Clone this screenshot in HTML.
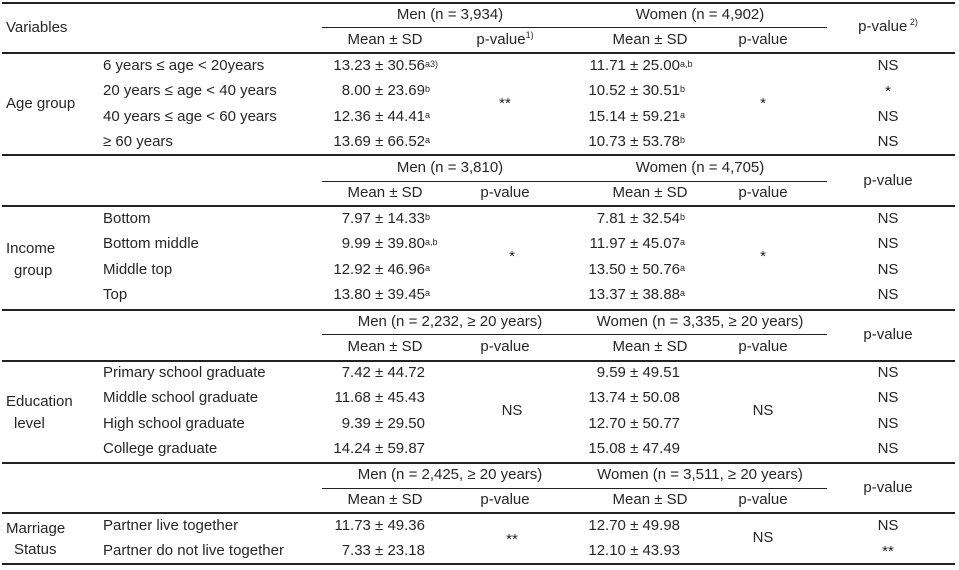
<!DOCTYPE html>
<html><head><meta charset="utf-8">
<style>
body{margin:0;background:#fff;}
#tbl{position:relative;width:959px;height:570px;overflow:hidden;font-family:"Liberation Sans",sans-serif;font-size:15px;color:#262626;}
.t{position:absolute;white-space:nowrap;transform:translateY(-50%);line-height:18px;}
.c{transform:translate(-50%,-50%);}
.r{text-align:right;}
.r sup,.t sup{font-size:9px;vertical-align:6px;line-height:0;}
.ln{position:absolute;background:#222;}
.th{height:2px;left:2px;width:953px;}
.sb{height:1px;left:322px;width:505px;}
</style></head>
<body>
<div id="tbl">
<!-- lines -->
<div class="ln th" style="top:2px"></div>
<div class="ln sb" style="top:27px"></div>
<div class="ln th" style="top:52px"></div>
<div class="ln th" style="top:154px"></div>
<div class="ln sb" style="top:181px"></div>
<div class="ln th" style="top:205px"></div>
<div class="ln th" style="top:309px"></div>
<div class="ln sb" style="top:334px"></div>
<div class="ln th" style="top:360px"></div>
<div class="ln th" style="top:462px"></div>
<div class="ln sb" style="top:488px"></div>
<div class="ln th" style="top:512px"></div>
<div class="ln th" style="top:563px"></div>

<!-- section 1 header -->
<div class="t" style="left:6px;top:28px">Variables</div>
<div class="t c" style="left:450px;top:15px">Men (n = 3,934)</div>
<div class="t c" style="left:700px;top:15px">Women (n = 4,902)</div>
<div class="t c" style="left:888px;top:27px">p-value<sup> 2)</sup></div>
<div class="t c" style="left:385px;top:40px">Mean ± SD</div>
<div class="t c" style="left:505px;top:40px">p-value<sup>1)</sup></div>
<div class="t c" style="left:650px;top:40px">Mean ± SD</div>
<div class="t c" style="left:763px;top:40px">p-value</div>

<div class="t" style="left:6px;top:104px">Age group</div>
<div class="t" style="left:103px;top:66px">6 years ≤ age &lt; 20years</div>
<div class="t" style="left:103px;top:91px">20 years ≤ age &lt; 40 years</div>
<div class="t" style="left:103px;top:117px">40 years ≤ age &lt; 60 years</div>
<div class="t" style="left:103px;top:142px">≥ 60 years</div>
<div class="t r" style="right:534px;top:66px">13.23 ± 30.56<sup style="position:absolute;left:100%;top:7px">a3)</sup></div>
<div class="t r" style="right:534px;top:91px">8.00 ± 23.69<sup style="position:absolute;left:100%;top:7px">b</sup></div>
<div class="t r" style="right:534px;top:117px">12.36 ± 44.41<sup style="position:absolute;left:100%;top:7px">a</sup></div>
<div class="t r" style="right:534px;top:142px">13.69 ± 66.52<sup style="position:absolute;left:100%;top:7px">a</sup></div>
<div class="t c" style="left:505px;top:104px">**</div>
<div class="t r" style="right:279px;top:66px">11.71 ± 25.00<sup style="position:absolute;left:100%;top:7px">a,b</sup></div>
<div class="t r" style="right:279px;top:91px">10.52 ± 30.51<sup style="position:absolute;left:100%;top:7px">b</sup></div>
<div class="t r" style="right:279px;top:117px">15.14 ± 59.21<sup style="position:absolute;left:100%;top:7px">a</sup></div>
<div class="t r" style="right:279px;top:142px">10.73 ± 53.78<sup style="position:absolute;left:100%;top:7px">b</sup></div>
<div class="t c" style="left:763px;top:104px">*</div>
<div class="t c" style="left:888px;top:66px">NS</div>
<div class="t c" style="left:888px;top:92px">*</div>
<div class="t c" style="left:888px;top:117px">NS</div>
<div class="t c" style="left:888px;top:142px">NS</div>

<!-- section 2 -->
<div class="t c" style="left:450px;top:168px">Men (n = 3,810)</div>
<div class="t c" style="left:700px;top:168px">Women (n = 4,705)</div>
<div class="t c" style="left:888px;top:181px">p-value</div>
<div class="t c" style="left:385px;top:193px">Mean ± SD</div>
<div class="t c" style="left:505px;top:193px">p-value</div>
<div class="t c" style="left:650px;top:193px">Mean ± SD</div>
<div class="t c" style="left:763px;top:193px">p-value</div>
<div class="t" style="left:6px;top:249px">Income</div>
<div class="t" style="left:14px;top:271px">group</div>
<div class="t" style="left:103px;top:219px">Bottom</div>
<div class="t" style="left:103px;top:244px">Bottom middle</div>
<div class="t" style="left:103px;top:270px">Middle top</div>
<div class="t" style="left:103px;top:295px">Top</div>
<div class="t r" style="right:534px;top:219px">7.97 ± 14.33<sup style="position:absolute;left:100%;top:7px">b</sup></div>
<div class="t r" style="right:534px;top:244px">9.99 ± 39.80<sup style="position:absolute;left:100%;top:7px">a,b</sup></div>
<div class="t r" style="right:534px;top:270px">12.92 ± 46.96<sup style="position:absolute;left:100%;top:7px">a</sup></div>
<div class="t r" style="right:534px;top:295px">13.80 ± 39.45<sup style="position:absolute;left:100%;top:7px">a</sup></div>
<div class="t c" style="left:512px;top:257px">*</div>
<div class="t r" style="right:279px;top:219px">7.81 ± 32.54<sup style="position:absolute;left:100%;top:7px">b</sup></div>
<div class="t r" style="right:279px;top:244px">11.97 ± 45.07<sup style="position:absolute;left:100%;top:7px">a</sup></div>
<div class="t r" style="right:279px;top:270px">13.50 ± 50.76<sup style="position:absolute;left:100%;top:7px">a</sup></div>
<div class="t r" style="right:279px;top:295px">13.37 ± 38.88<sup style="position:absolute;left:100%;top:7px">a</sup></div>
<div class="t c" style="left:763px;top:257px">*</div>
<div class="t c" style="left:888px;top:219px">NS</div>
<div class="t c" style="left:888px;top:244px">NS</div>
<div class="t c" style="left:888px;top:270px">NS</div>
<div class="t c" style="left:888px;top:295px">NS</div>

<!-- section 3 -->
<div class="t c" style="left:450px;top:322px">Men (n = 2,232, ≥ 20 years)</div>
<div class="t c" style="left:700px;top:322px">Women (n = 3,335, ≥ 20 years)</div>
<div class="t c" style="left:888px;top:335px">p-value</div>
<div class="t c" style="left:385px;top:347px">Mean ± SD</div>
<div class="t c" style="left:505px;top:347px">p-value</div>
<div class="t c" style="left:650px;top:347px">Mean ± SD</div>
<div class="t c" style="left:763px;top:347px">p-value</div>
<div class="t" style="left:6px;top:402px">Education</div>
<div class="t" style="left:14px;top:424px">level</div>
<div class="t" style="left:103px;top:373px">Primary school graduate</div>
<div class="t" style="left:103px;top:398px">Middle school graduate</div>
<div class="t" style="left:103px;top:424px">High school graduate</div>
<div class="t" style="left:103px;top:449px">College graduate</div>
<div class="t r" style="right:534px;top:373px">7.42 ± 44.72</div>
<div class="t r" style="right:534px;top:398px">11.68 ± 45.43</div>
<div class="t r" style="right:534px;top:424px">9.39 ± 29.50</div>
<div class="t r" style="right:534px;top:449px">14.24 ± 59.87</div>
<div class="t c" style="left:512px;top:411px">NS</div>
<div class="t r" style="right:279px;top:373px">9.59 ± 49.51</div>
<div class="t r" style="right:279px;top:398px">13.74 ± 50.08</div>
<div class="t r" style="right:279px;top:424px">12.70 ± 50.77</div>
<div class="t r" style="right:279px;top:449px">15.08 ± 47.49</div>
<div class="t c" style="left:763px;top:411px">NS</div>
<div class="t c" style="left:888px;top:373px">NS</div>
<div class="t c" style="left:888px;top:398px">NS</div>
<div class="t c" style="left:888px;top:424px">NS</div>
<div class="t c" style="left:888px;top:449px">NS</div>

<!-- section 4 -->
<div class="t c" style="left:450px;top:475px">Men (n = 2,425, ≥ 20 years)</div>
<div class="t c" style="left:700px;top:475px">Women (n = 3,511, ≥ 20 years)</div>
<div class="t c" style="left:888px;top:488px">p-value</div>
<div class="t c" style="left:385px;top:500px">Mean ± SD</div>
<div class="t c" style="left:505px;top:500px">p-value</div>
<div class="t c" style="left:650px;top:500px">Mean ± SD</div>
<div class="t c" style="left:763px;top:500px">p-value</div>
<div class="t" style="left:6px;top:529px">Marriage</div>
<div class="t" style="left:14px;top:550px">Status</div>
<div class="t" style="left:103px;top:526px">Partner live together</div>
<div class="t" style="left:103px;top:551px">Partner do not live together</div>
<div class="t r" style="right:534px;top:526px">11.73 ± 49.36</div>
<div class="t r" style="right:534px;top:551px">7.33 ± 23.18</div>
<div class="t c" style="left:512px;top:540px">**</div>
<div class="t r" style="right:279px;top:526px">12.70 ± 49.98</div>
<div class="t r" style="right:279px;top:551px">12.10 ± 43.93</div>
<div class="t c" style="left:763px;top:538px">NS</div>
<div class="t c" style="left:888px;top:526px">NS</div>
<div class="t c" style="left:888px;top:552px">**</div>
</div>
</body></html>
